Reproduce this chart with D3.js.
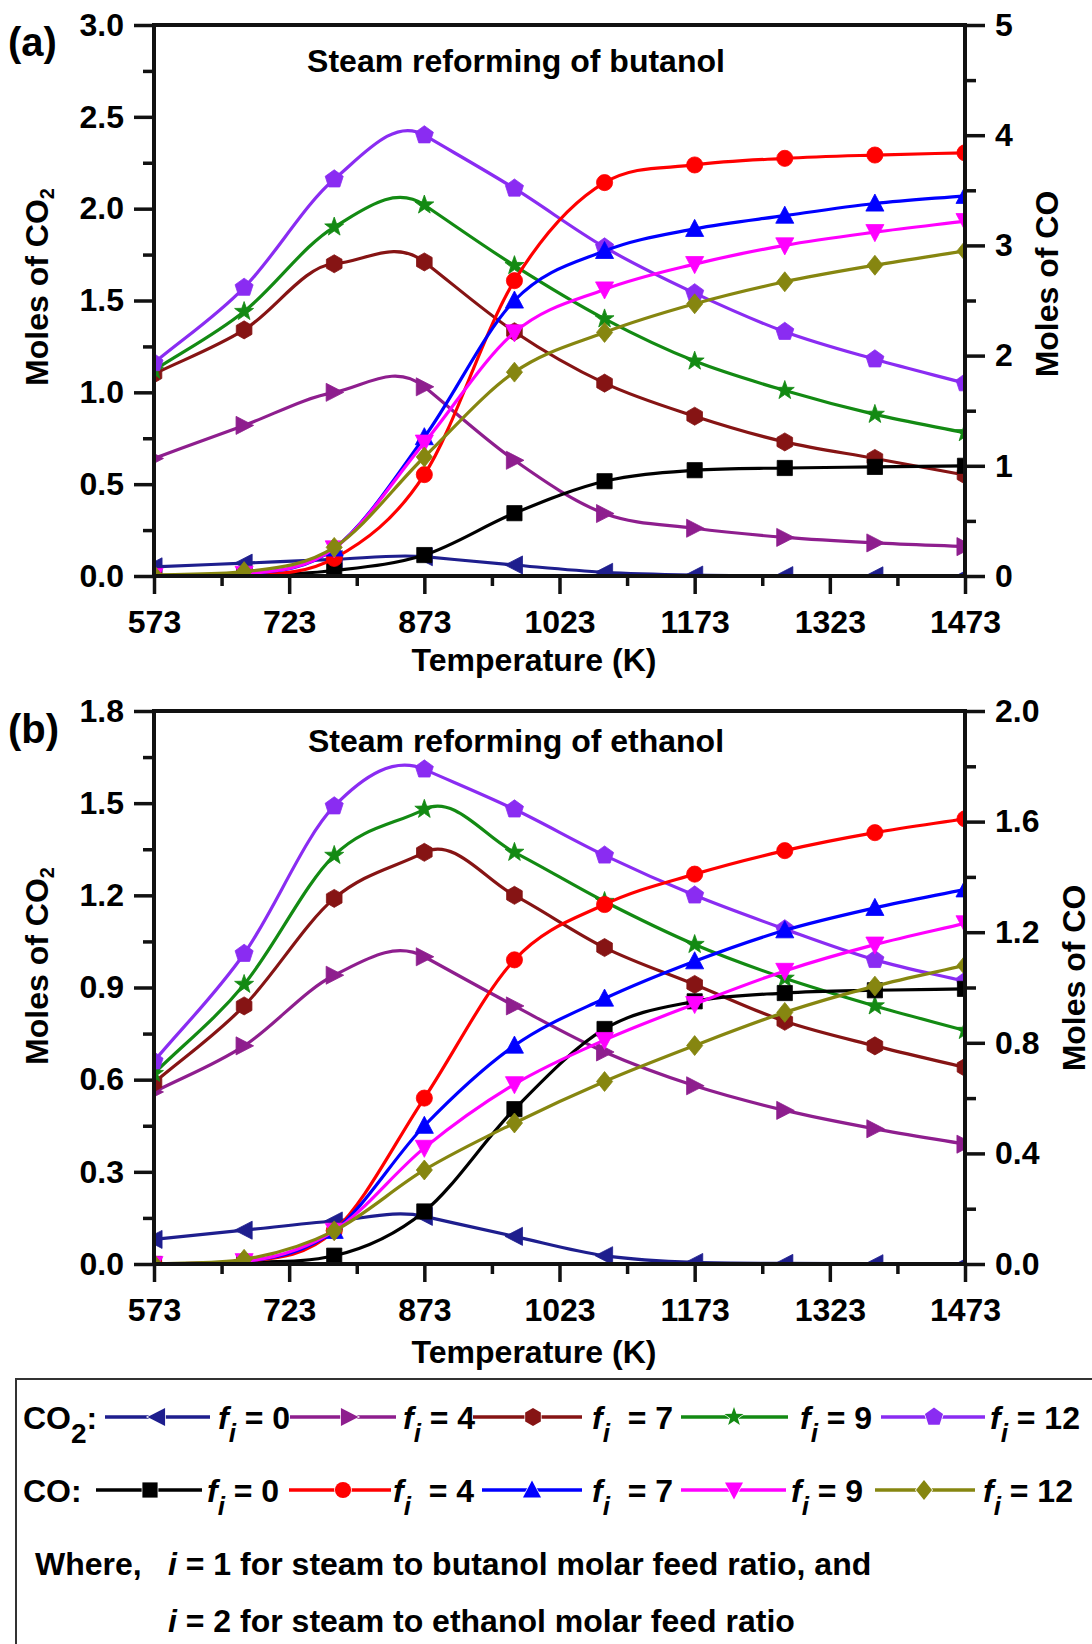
<!DOCTYPE html>
<html><head><meta charset="utf-8">
<script src="https://cdn.jsdelivr.net/npm/d3@7"></script>
<style>
body{margin:0;background:#fff}
svg{display:block}
text{font-family:"Liberation Sans",Arial,Helvetica,sans-serif;font-weight:bold;fill:#000}
</style>
</head><body><svg id="chart" width="1092" height="1644"></svg>
<script>
// ---------- DATA ----------
const temps = [573, 673, 773, 873, 973, 1073, 1173, 1273, 1373, 1473];
const xTickLabels = [573, 723, 873, 1023, 1173, 1323, 1473];
const feedRatios = [0, 4, 7, 9, 12];

// Panel (a): steam reforming of butanol
const co2Bu_f0  = [0.05, 0.07, 0.09, 0.105, 0.06, 0.02, 0.005, 0.002, 0.001, 0.0];
const co2Bu_f4  = [0.64, 0.82, 1.00, 1.03, 0.63, 0.34, 0.26, 0.21, 0.18, 0.16];
const co2Bu_f7  = [1.10, 1.34, 1.70, 1.71, 1.33, 1.05, 0.87, 0.73, 0.64, 0.55];
const co2Bu_f9  = [1.12, 1.44, 1.90, 2.02, 1.69, 1.40, 1.17, 1.01, 0.88, 0.78];
const co2Bu_f12 = [1.16, 1.57, 2.16, 2.40, 2.11, 1.79, 1.54, 1.33, 1.18, 1.05];
const coBu_f0   = [0.0, 0.005, 0.05, 0.19, 0.57, 0.86, 0.96, 0.98, 0.99, 1.0];
const coBu_f4   = [0.0, 0.01, 0.16, 0.92, 2.68, 3.57, 3.73, 3.79, 3.82, 3.84];
const coBu_f7   = [0.0, 0.02, 0.25, 1.26, 2.50, 2.95, 3.15, 3.27, 3.38, 3.45];
const coBu_f9   = [0.0, 0.02, 0.25, 1.21, 2.21, 2.60, 2.83, 3.00, 3.12, 3.22];
const coBu_f12  = [0.01, 0.04, 0.26, 1.08, 1.85, 2.21, 2.47, 2.67, 2.82, 2.95];

// Panel (b): steam reforming of ethanol
const co2Et_f0  = [0.08, 0.11, 0.14, 0.155, 0.09, 0.027, 0.005, 0.002, 0.001, 0.0];
const co2Et_f4  = [0.56, 0.71, 0.94, 1.00, 0.84, 0.69, 0.58, 0.50, 0.44, 0.39];
const co2Et_f7  = [0.59, 0.84, 1.19, 1.34, 1.20, 1.03, 0.91, 0.79, 0.71, 0.64];
const co2Et_f9  = [0.62, 0.91, 1.33, 1.48, 1.34, 1.18, 1.04, 0.93, 0.84, 0.76];
const co2Et_f12 = [0.66, 1.01, 1.49, 1.61, 1.48, 1.33, 1.20, 1.09, 0.99, 0.92];
const coEt_f0   = [0.0, 0.005, 0.03, 0.19, 0.56, 0.85, 0.95, 0.98, 0.99, 0.995];
const coEt_f4   = [0.0, 0.01, 0.12, 0.60, 1.10, 1.30, 1.41, 1.495, 1.56, 1.61];
const coEt_f7   = [0.0, 0.01, 0.12, 0.50, 0.79, 0.96, 1.095, 1.207, 1.288, 1.355];
const coEt_f9   = [0.0, 0.01, 0.12, 0.42, 0.65, 0.81, 0.94, 1.06, 1.155, 1.232];
const coEt_f12  = [0.0, 0.017, 0.12, 0.34, 0.51, 0.66, 0.79, 0.91, 1.005, 1.08];

// Axis ticks
const yTicksCO2_a = [0, 0.5, 1.0, 1.5, 2.0, 2.5, 3.0];
const yTicksCO_a  = [0, 1, 2, 3, 4, 5];
const yTicksCO2_b = [0, 0.3, 0.6, 0.9, 1.2, 1.5, 1.8];
const yTicksCO_b  = [0, 0.4, 0.8, 1.2, 1.6, 2.0];

// Styles
const co2Colors = ["#1e1e8e", "#8e1e8e", "#861414", "#138a13", "#8a2cf2"];
const co2Shapes = ["triL", "triR", "hex", "star", "pent"];
const coColors  = ["#000000", "#ff0000", "#0000ff", "#ff00ff", "#868610"];
const coShapes  = ["square", "circle", "triU", "triD", "diamond"];

// ---------- DRAWING ----------
const svg = d3.select("#chart");
const FONT = 32;

// Smooth spline through points (Hermite); at local extrema the tangent follows the steeper chord
function curveSmoothPeak(context) {
  let xs, ys;
  return {
    areaStart() {}, areaEnd() {},
    lineStart() { xs = []; ys = []; },
    point(px, py) { xs.push(+px); ys.push(+py); },
    lineEnd() {
      const n = xs.length;
      if (!n) return;
      context.moveTo(xs[0], ys[0]);
      if (n < 2) return;
      const s = [];
      for (let i = 0; i < n - 1; i++) s.push((ys[i + 1] - ys[i]) / (xs[i + 1] - xs[i]));
      const m = new Array(n);
      m[0] = s[0]; m[n - 1] = s[n - 2];
      for (let i = 1; i < n - 1; i++) {
        const a = s[i - 1], b = s[i];
        if (a * b < 0) m[i] = Math.abs(a) > Math.abs(b) ? a : b;
        else if (a === 0 || b === 0) m[i] = 0;
        else {
          let v = (a + b) / 2;
          const lim = 3 * Math.min(Math.abs(a), Math.abs(b));
          if (Math.abs(v) > lim) v = Math.sign(v) * lim;
          m[i] = v;
        }
      }
      for (let i = 0; i < n - 1; i++) {
        const h = xs[i + 1] - xs[i];
        context.bezierCurveTo(xs[i] + h / 3, ys[i] + m[i] * h / 3,
                              xs[i + 1] - h / 3, ys[i + 1] - m[i + 1] * h / 3,
                              xs[i + 1], ys[i + 1]);
      }
    }
  };
}

function markerPath(shape, r) {
  const poly = pts => "M" + pts.map(p => p[0].toFixed(2) + "," + p[1].toFixed(2)).join("L") + "Z";
  const ring = (n, rad, off) => d3.range(n).map(k => {
    const a = (off + k * 360 / n) * Math.PI / 180;
    return [rad * Math.cos(a), rad * Math.sin(a)];
  });
  switch (shape) {
    case "triL": return poly([[-r, 0], [r * 0.85, -r * 0.95], [r * 0.85, r * 0.95]]);
    case "triR": return poly([[r, 0], [-r * 0.85, -r * 0.95], [-r * 0.85, r * 0.95]]);
    case "triU": return poly([[0, -r], [r * 0.95, r * 0.8], [-r * 0.95, r * 0.8]]);
    case "triD": return poly([[0, r], [r * 0.95, -r * 0.8], [-r * 0.95, -r * 0.8]]);
    case "hex": return poly(ring(6, r * 0.95, -90));
    case "pent": return poly(ring(5, r, -90));
    case "star": {
      const pts = d3.range(10).map(k => {
        const rad = k % 2 === 0 ? r * 1.05 : r * 0.42;
        const a = (-90 + k * 36) * Math.PI / 180;
        return [rad * Math.cos(a), rad * Math.sin(a)];
      });
      return poly(pts);
    }
    case "square": { const s = r * 0.8; return poly([[-s, -s], [s, -s], [s, s], [-s, s]]); }
    case "circle": { const c = r * 0.85; return `M${-c},0A${c},${c} 0 1,0 ${c},0A${c},${c} 0 1,0 ${-c},0Z`; }
    case "diamond": return poly([[0, -r * 1.05], [r * 0.85, 0], [0, r * 1.05], [-r * 0.85, 0]]);
  }
}

const x = d3.scaleLinear().domain([573, 1473]).range([154, 965]);
const xMinor = d3.range(648, 1473, 150);

const panels = [
  {
    key: "a", top: 25, bottom: 576,
    yLmax: 3, yLticks: yTicksCO2_a, yLminor: d3.range(0.25, 3, 0.5), yLfmt: d3.format(".1f"),
    yRmax: 5, yRticks: yTicksCO_a, yRminor: d3.range(0.5, 5, 1), yRfmt: d3.format("d"),
    co2: [co2Bu_f0, co2Bu_f4, co2Bu_f7, co2Bu_f9, co2Bu_f12],
    co: [coBu_f0, coBu_f4, coBu_f7, coBu_f9, coBu_f12],
    title: "Steam reforming of butanol", label: "(a)",
    labelY: 56, titleY: 72, xTitleY: 671, leftLabelY: 287, rightLabelY: 284, rightLabelX: 1058
  },
  {
    key: "b", top: 711, bottom: 1264,
    yLmax: 1.8, yLticks: yTicksCO2_b, yLminor: d3.range(0.15, 1.8, 0.3), yLfmt: d3.format(".1f"),
    yRmax: 2.0, yRticks: yTicksCO_b, yRminor: d3.range(0.2, 2.0, 0.4), yRfmt: d3.format(".1f"),
    co2: [co2Et_f0, co2Et_f4, co2Et_f7, co2Et_f9, co2Et_f12],
    co: [coEt_f0, coEt_f4, coEt_f7, coEt_f9, coEt_f12],
    title: "Steam reforming of ethanol", label: "(b)",
    labelY: 743, titleY: 752, xTitleY: 1363, leftLabelY: 966, rightLabelY: 978, rightLabelX: 1085
  }
];

panels.forEach(p => {
  const yL = d3.scaleLinear().domain([0, p.yLmax]).range([p.bottom, p.top]);
  const yR = d3.scaleLinear().domain([0, p.yRmax]).range([p.bottom, p.top]);
  const g = svg.append("g");

  const clipId = "clip-" + p.key;
  svg.append("clipPath").attr("id", clipId).append("rect")
    .attr("x", x(573)).attr("y", p.top).attr("width", x(1473) - x(573)).attr("height", p.bottom - p.top);

  const plot = g.append("g").attr("clip-path", `url(#${clipId})`);

  function drawSeries(vals, yScale, color, shape) {
    const pts = temps.map((t, i) => [x(t), yScale(vals[i])]);
    plot.append("path")
      .attr("d", d3.line().curve(curveSmoothPeak)(pts))
      .attr("fill", "none").attr("stroke", color).attr("stroke-width", 3.2);
    plot.append("g").selectAll("path").data(pts).join("path")
      .attr("transform", d => `translate(${d[0]},${d[1]})`)
      .attr("d", markerPath(shape, 9.5))
      .attr("fill", color).attr("stroke", color).attr("stroke-width", 0.8);
  }
  p.co2.forEach((vals, i) => drawSeries(vals, yL, co2Colors[i], co2Shapes[i]));
  p.co.forEach((vals, i) => drawSeries(vals, yR, coColors[i], coShapes[i]));

  // Axes
  const styleAxis = sel => {
    sel.select(".domain").remove();
    sel.selectAll(".tick line").attr("stroke", "#111").attr("stroke-width", 3.5);
    sel.attr("font-size", FONT);
    sel.selectAll("text").attr("fill", "#000");
  };
  g.append("g").attr("transform", `translate(0,${p.bottom})`)
    .call(d3.axisBottom(x).tickValues(xTickLabels).tickFormat(d3.format("d")).tickSize(18).tickPadding(16).tickSizeOuter(0))
    .call(styleAxis);
  g.append("g").attr("transform", `translate(0,${p.bottom})`)
    .call(d3.axisBottom(x).tickValues(xMinor).tickFormat(() => "").tickSize(10).tickSizeOuter(0))
    .call(styleAxis);
  g.append("g").attr("transform", `translate(${x(573)},0)`)
    .call(d3.axisLeft(yL).tickValues(p.yLticks).tickFormat(p.yLfmt).tickSize(20).tickPadding(10).tickSizeOuter(0))
    .call(styleAxis);
  g.append("g").attr("transform", `translate(${x(573)},0)`)
    .call(d3.axisLeft(yL).tickValues(p.yLminor).tickFormat(() => "").tickSize(11).tickSizeOuter(0))
    .call(styleAxis);
  g.append("g").attr("transform", `translate(${x(1473)},0)`)
    .call(d3.axisRight(yR).tickValues(p.yRticks).tickFormat(p.yRfmt).tickSize(20).tickPadding(10).tickSizeOuter(0))
    .call(styleAxis);
  g.append("g").attr("transform", `translate(${x(1473)},0)`)
    .call(d3.axisRight(yR).tickValues(p.yRminor).tickFormat(() => "").tickSize(11).tickSizeOuter(0))
    .call(styleAxis);

  // Frame
  const frame = [[x(573), p.top, x(573), p.bottom], [x(573), p.bottom, x(1473), p.bottom],
                 [x(1473), p.bottom, x(1473), p.top], [x(573), p.top, x(1473), p.top]];
  g.selectAll("line.frame").data(frame).join("line").attr("class", "frame")
    .attr("x1", d => d[0]).attr("y1", d => d[1]).attr("x2", d => d[2]).attr("y2", d => d[3])
    .attr("stroke", "#111").attr("stroke-width", 4).attr("stroke-linecap", "square");

  // Texts
  g.append("text").attr("x", 8).attr("y", p.labelY).attr("font-size", 40).text(p.label);
  g.append("text").attr("x", 516).attr("y", p.titleY).attr("text-anchor", "middle")
    .attr("font-size", FONT).text(p.title);
  g.append("text").attr("x", 534).attr("y", p.xTitleY).attr("text-anchor", "middle")
    .attr("font-size", FONT).text("Temperature (K)");
  const lt = g.append("text").attr("transform", `translate(48,${p.leftLabelY}) rotate(-90)`)
    .attr("text-anchor", "middle").attr("font-size", FONT);
  lt.append("tspan").text("Moles of CO");
  lt.append("tspan").attr("font-size", 20).attr("dy", 6).text("2");
  g.append("text").attr("transform", `translate(${p.rightLabelX},${p.rightLabelY}) rotate(-90)`)
    .attr("text-anchor", "middle").attr("font-size", FONT).text("Moles of CO");
});

// ---------- LEGEND ----------
const leg = svg.append("g");
leg.append("rect").attr("x", 16).attr("y", 1379).attr("width", 1200).attr("height", 400)
  .attr("fill", "none").attr("stroke", "#333").attr("stroke-width", 2);

function fLabel(sel, xPos, yPos, val, gap) {
  const t = sel.append("text").attr("x", xPos).attr("y", yPos).attr("font-size", FONT);
  t.append("tspan").attr("font-style", "italic").text("f");
  t.append("tspan").attr("font-style", "italic").attr("font-size", 26).attr("dy", 13).text("i");
  t.append("tspan").attr("dy", -13).text((gap ? "\u00a0" : "") + " = " + val);
}

const row1 = [
  {x1: 105, x2: 210, m: 157, t: 218, gap: false},
  {x1: 290, x2: 396, m: 349, t: 403, gap: false},
  {x1: 473, x2: 582, m: 533, t: 592, gap: true},
  {x1: 681, x2: 788, m: 734, t: 800, gap: false},
  {x1: 881, x2: 985, m: 934, t: 990, gap: false}
];
const row2 = [
  {x1: 96, x2: 202, m: 150, t: 207, gap: false},
  {x1: 289, x2: 391, m: 343, t: 393, gap: true},
  {x1: 482, x2: 582, m: 532, t: 592, gap: true},
  {x1: 681, x2: 786, m: 734, t: 791, gap: false},
  {x1: 875, x2: 975, m: 924, t: 983, gap: false}
];

const r1y = 1417, r2y = 1490;
const c2 = leg.append("text").attr("x", 23).attr("y", r1y + 12).attr("font-size", FONT);
c2.append("tspan").text("CO");
c2.append("tspan").attr("font-size", 28).attr("dy", 14).text("2");
c2.append("tspan").attr("dy", -14).text(":");
leg.append("text").attr("x", 23).attr("y", r2y + 12).attr("font-size", FONT).text("CO:");

function legItem(it, yy, color, shape, val) {
  leg.append("line").attr("x1", it.x1).attr("x2", it.x2).attr("y1", yy).attr("y2", yy)
    .attr("stroke", color).attr("stroke-width", 3.5);
  leg.append("path").attr("transform", `translate(${it.m},${yy})`).attr("d", markerPath(shape, 9.5))
    .attr("fill", color).attr("stroke", "#fff").attr("stroke-width", 1.5).attr("paint-order", "stroke");
  fLabel(leg, it.t, yy + 12, val, it.gap);
}
row1.forEach((it, i) => legItem(it, r1y, co2Colors[i], co2Shapes[i], feedRatios[i]));
row2.forEach((it, i) => legItem(it, r2y, coColors[i], coShapes[i], feedRatios[i]));

const w1 = leg.append("text").attr("x", 35).attr("y", 1575).attr("font-size", FONT);
w1.append("tspan").text("Where,");
w1.append("tspan").attr("x", 168).attr("font-style", "italic").text("i");
w1.append("tspan").text(" = 1 for steam to butanol molar feed ratio, and");
const w2 = leg.append("text").attr("x", 168).attr("y", 1632).attr("font-size", FONT);
w2.append("tspan").attr("font-style", "italic").text("i");
w2.append("tspan").text(" = 2 for steam to ethanol molar feed ratio");
</script></body></html>
